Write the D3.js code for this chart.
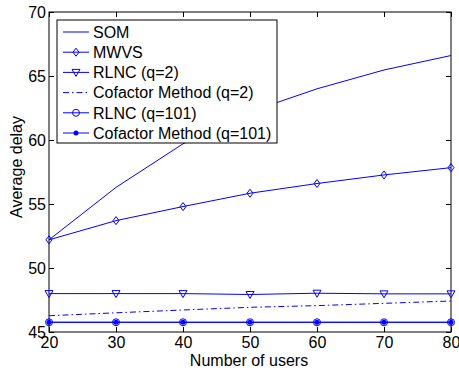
<!DOCTYPE html>
<html>
<head>
<meta charset="utf-8">
<script src="https://cdn.jsdelivr.net/npm/d3@7"></script>
<style>
  body { margin: 0; background: #fff; }
  text { font-family: "Liberation Sans", Arial, sans-serif; }
</style>
</head>
<body>
<div id="chart"></div>
<script>
const users = [20, 30, 40, 50, 60, 70, 80];
const som = [52.2, 56.3, 59.7, 62.2, 64.0, 65.47, 66.6];
const mwvs = [52.2, 53.7, 54.8, 55.84, 56.6, 57.27, 57.84];
const rlnc2 = [48.0, 48.0, 48.0, 47.93, 48.03, 47.98, 47.98];
const cofactor2 = [46.27, 46.5, 46.72, 46.93, 47.06, 47.24, 47.42];
const rlnc101 = [45.76, 45.76, 45.76, 45.76, 45.76, 45.76, 45.76];
const cofactor101 = [45.76, 45.76, 45.76, 45.76, 45.76, 45.76, 45.76];
const xTicks = [20, 30, 40, 50, 60, 70, 80];
const yTicks = [45, 50, 55, 60, 65, 70];

const series = [
  { name: 'SOM', values: som, marker: null, dash: null },
  { name: 'MWVS', values: mwvs, marker: 'diamond', dash: null },
  { name: 'RLNC (q=2)', values: rlnc2, marker: 'triangle', dash: null },
  { name: 'Cofactor Method (q=2)', values: cofactor2, marker: null, dash: '6,3,1.5,3' },
  { name: 'RLNC (q=101)', values: rlnc101, marker: 'circle', dash: null },
  { name: 'Cofactor Method (q=101)', values: cofactor101, marker: 'dot', dash: null }
];

const width = 459, height = 371;
const margin = { top: 12, right: 8, bottom: 39, left: 49 };
const innerW = width - margin.left - margin.right;
const innerH = height - margin.top - margin.bottom;
const blue = '#0000ff';

const svg = d3.select('#chart').append('svg')
  .attr('width', width)
  .attr('height', height);

const g = svg.append('g')
  .attr('transform', `translate(${margin.left},${margin.top})`);

const x = d3.scaleLinear().domain([20, 80]).range([0, innerW]);
const y = d3.scaleLinear().domain([45, 70]).range([innerH, 0]);

// axes with inward ticks (box style)
const tickLen = 5;
g.append('g')
  .attr('transform', `translate(0,${innerH})`)
  .call(d3.axisBottom(x).tickValues(xTicks).tickSizeInner(-tickLen).tickSizeOuter(0).tickPadding(6))
  .call(a => a.select('.domain').remove())
  .call(a => a.selectAll('text').attr('font-size', 16).attr('fill', '#000').attr('dy', '0.6em'));
g.append('g')
  .call(d3.axisTop(x).tickValues(xTicks).tickSizeInner(-tickLen).tickSizeOuter(0).tickFormat(''))
  .call(a => a.select('.domain').remove());
g.append('g')
  .call(d3.axisLeft(y).tickValues(yTicks).tickSizeInner(-tickLen).tickSizeOuter(0).tickPadding(3))
  .call(a => a.select('.domain').remove())
  .call(a => a.selectAll('text').attr('font-size', 16).attr('fill', '#000'));
g.append('g')
  .attr('transform', `translate(${innerW},0)`)
  .call(d3.axisRight(y).tickValues(yTicks).tickSizeInner(-tickLen).tickSizeOuter(0).tickFormat(''))
  .call(a => a.select('.domain').remove());

g.append('rect')
  .attr('width', innerW).attr('height', innerH)
  .attr('fill', 'none').attr('stroke', '#000').attr('stroke-width', 1);

// axis labels
svg.append('text')
  .attr('x', 249)
  .attr('y', height - 5)
  .attr('text-anchor', 'middle')
  .attr('font-size', 16)
  .text('Number of users');
svg.append('text')
  .attr('transform', 'translate(22,167) rotate(-90)')
  .attr('text-anchor', 'middle')
  .attr('font-size', 16)
  .text('Average delay');

function drawMarker(sel, type, cx, cy) {
  if (type === 'diamond') {
    sel.append('path')
      .attr('d', `M${cx},${cy - 4}L${cx + 3},${cy}L${cx},${cy + 4}L${cx - 3},${cy}Z`)
      .attr('fill', 'none').attr('stroke', blue).attr('stroke-width', 1);
  } else if (type === 'triangle') {
    sel.append('path')
      .attr('d', `M${cx - 4},${cy - 3}L${cx + 4},${cy - 3}L${cx},${cy + 4}Z`)
      .attr('fill', 'none').attr('stroke', blue).attr('stroke-width', 1);
  } else if (type === 'circle') {
    sel.append('circle').attr('cx', cx).attr('cy', cy).attr('r', 3.5)
      .attr('fill', 'none').attr('stroke', blue).attr('stroke-width', 1);
  } else if (type === 'dot') {
    sel.append('circle').attr('cx', cx).attr('cy', cy).attr('r', 2.5)
      .attr('fill', blue);
  }
}

const line = d3.line().x((d, i) => x(users[i])).y(d => y(d));

series.forEach(s => {
  g.append('path')
    .datum(s.values)
    .attr('d', line)
    .attr('fill', 'none')
    .attr('stroke', blue)
    .attr('stroke-width', 1)
    .attr('stroke-dasharray', s.dash);
  if (s.marker) {
    const mg = g.append('g');
    s.values.forEach((v, i) => drawMarker(mg, s.marker, x(users[i]), y(v)));
  }
});

// legend
const legend = svg.append('g').attr('transform', 'translate(57,20)');
const legW = 220, legH = 123, rowH = 20.2;
legend.append('rect')
  .attr('width', legW).attr('height', legH)
  .attr('fill', '#fff').attr('stroke', '#000').attr('stroke-width', 1);
series.forEach((s, i) => {
  const ry = 12 + i * rowH;
  legend.append('line')
    .attr('x1', 6).attr('x2', 32).attr('y1', ry).attr('y2', ry)
    .attr('stroke', blue).attr('stroke-width', 1)
    .attr('stroke-dasharray', s.dash);
  if (s.marker) drawMarker(legend, s.marker, 19, ry);
  legend.append('text')
    .attr('x', 36).attr('y', ry)
    .attr('dy', '0.36em')
    .attr('font-size', 16)
    .text(s.name);
});
</script>
</body>
</html>
